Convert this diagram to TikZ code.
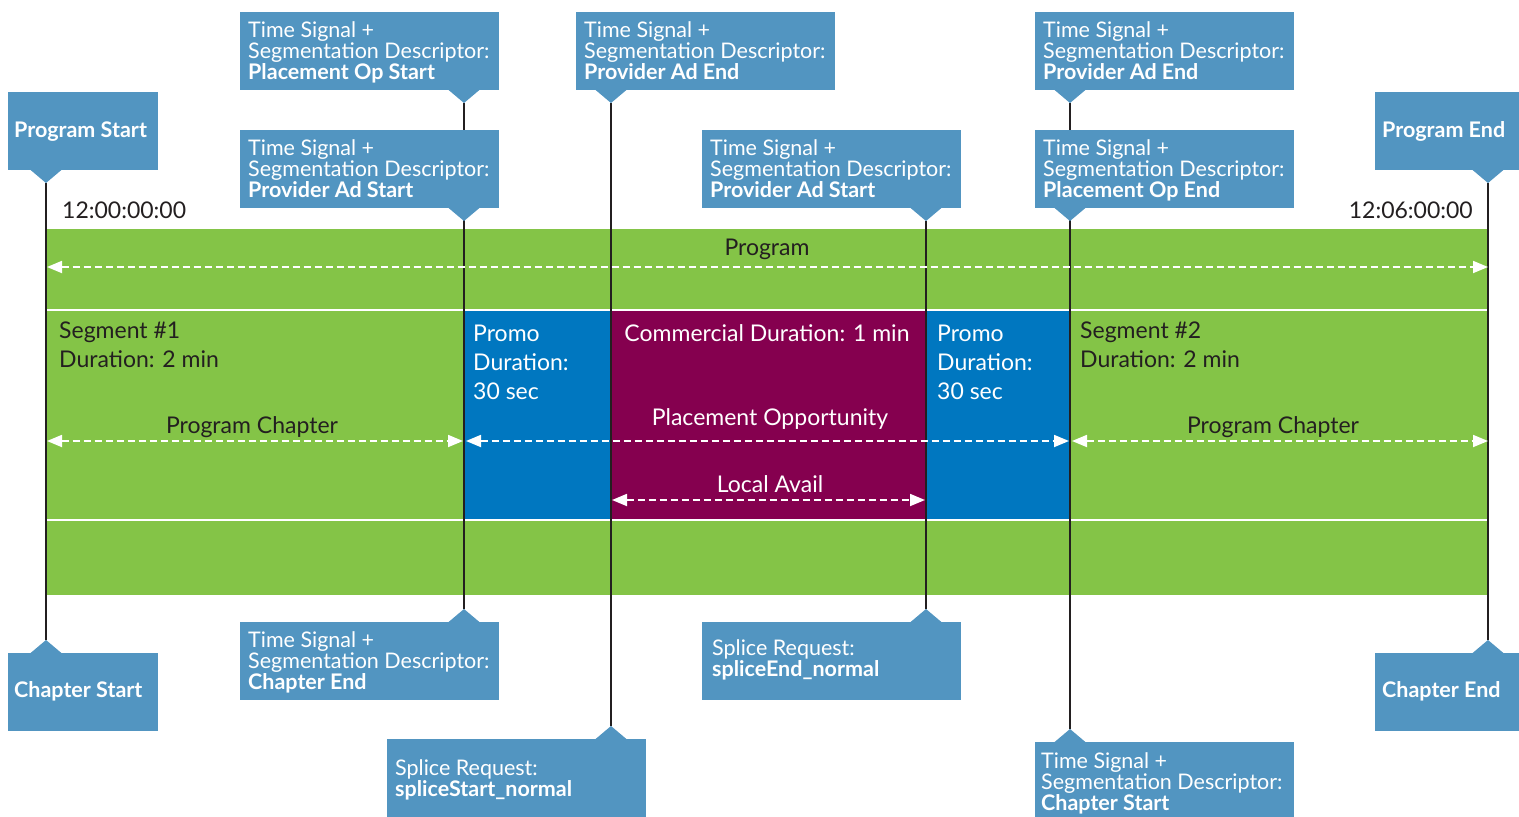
\documentclass[tikz,border=0pt]{standalone}
\usepackage{fontspec}
\setmainfont{Lato}
\usetikzlibrary{arrows.meta}
\definecolor{cbluebox}{HTML}{5295C1}
\definecolor{cgreen}{HTML}{84C447}
\definecolor{cpromo}{HTML}{0077C0}
\definecolor{cmaroon}{HTML}{85004F}
\definecolor{cdark}{HTML}{231F20}
\tikzset{
  boxst/.style={fill=cbluebox, inner sep=0pt, outer sep=0pt, anchor=north west},
  ctext/.style={text=white, font=\fontsize{21.5}{21}\selectfont, align=left, anchor=base west, inner sep=0pt},
  btext/.style={text=cdark, font=\fontsize{23}{29}\selectfont, align=left, anchor=base west, inner sep=0pt},
  wtext/.style={text=white, font=\fontsize{23}{29}\selectfont, align=left, anchor=base west, inner sep=0pt},
  tline/.style={draw=cdark, line width=2.5pt},
  darr/.style={draw=white, line width=1.8pt, dash pattern=on 7pt off 4pt, {Triangle[length=15pt,width=12pt,fill=white]}-{Triangle[length=15pt,width=12pt,fill=white]}},
  wline/.style={draw=white, line width=2pt},
}
% name, x, y, w, h, pointer x  (pointer below)
\newcommand\calldown[6]{%
  \node[boxst, minimum width=#4pt, minimum height=#5pt] (#1) at (#2,#3) {};
  \fill[cbluebox] (#6-16,#3+#5-0.5) -- (#6+16,#3+#5-0.5) -- (#6,#3+#5+13) -- cycle;
  \coordinate (#1-p) at (#6,#3+#5+13);}
% pointer above
\newcommand\callup[6]{%
  \node[boxst, minimum width=#4pt, minimum height=#5pt] (#1) at (#2,#3) {};
  \fill[cbluebox] (#6-16,#3+0.5) -- (#6+16,#3+0.5) -- (#6,#3-13) -- cycle;
  \coordinate (#1-p) at (#6,#3-13);}
\begin{document}
\begin{tikzpicture}[x=1pt,y=-1pt]
\useasboundingbox (0,0) rectangle (1519,817);
% band
\fill[cgreen] (47,229) rectangle (1488,595);
\fill[cpromo] (464,311) rectangle (611,519);
\fill[cmaroon] (611,311) rectangle (926,519);
\fill[cpromo] (926,311) rectangle (1070,519);
\draw[wline] (47,310) -- (1490,310);
\draw[wline] (47,520) -- (1490,520);

% anchor points of the time lines
\coordinate (ps-p) at (46,183);
\coordinate (tpos-p) at (464,103);
\coordinate (tpae-p) at (611,103);
\coordinate (tpas2-p) at (926,221);
\coordinate (tpae2-p) at (1070,103);
\coordinate (pe-p) at (1488,183);
\coordinate (cs-p) at (46,640);
\coordinate (tce-p) at (464,609);
\coordinate (sre-p) at (926,609);
\coordinate (srs-p) at (611,726);
\coordinate (tcs-p) at (1070,729);
\coordinate (ce-p) at (1488,640);

% time lines
\draw[tline] (ps-p) -- (cs-p);
\draw[tline] (tpos-p) -- (tce-p);
\draw[tline] (tpae-p) -- (srs-p);
\draw[tline] (tpas2-p) -- (sre-p);
\draw[tline] (tpae2-p) -- (tcs-p);
\draw[tline] (pe-p) -- (ce-p);

% callouts top
\calldown{ps}{8}{92}{150}{78}{46}
\calldown{tpos}{240}{12}{259}{78}{464}
\calldown{tpas}{240}{130}{259}{78}{464}
\calldown{tpae}{576}{12}{259}{78}{611}
\calldown{tpas2}{702}{130}{259}{78}{926}
\calldown{tpae2}{1035}{12}{259}{78}{1070}
\calldown{tpoe}{1035}{130}{259}{78}{1070}
\calldown{pe}{1375}{92}{144}{78}{1488}
% callouts bottom
\callup{cs}{8}{653}{150}{78}{46}
\callup{tce}{240}{622}{259}{78}{464}
\callup{sre}{702}{622}{259}{78}{926}
\callup{srs}{387}{739}{259}{78}{611}
\callup{tcs}{1035}{742}{259}{75}{1070}
\callup{ce}{1375}{653}{144}{78}{1488}

% callout texts (anchor = baseline of last line)
\node[ctext] (tps) at (14,137) {\textbf{Program Start}};
\node[ctext] (tpe) at (1382,137) {\textbf{Program End}};
\node[ctext] (tcs0) at (14,697) {\textbf{Chapter Start}};
\node[ctext] (tce0) at (1382,697) {\textbf{Chapter End}};
\node[ctext] (t1) at (248,79) {Time Signal +\\Segmentation Descriptor:\\\textbf{Placement Op Start}};
\node[ctext] (t2) at (248,197) {Time Signal +\\Segmentation Descriptor:\\\textbf{Provider Ad Start}};
\node[ctext] (t3) at (584,79) {Time Signal +\\Segmentation Descriptor:\\\textbf{Provider Ad End}};
\node[ctext] (t4) at (710,197) {Time Signal +\\Segmentation Descriptor:\\\textbf{Provider Ad Start}};
\node[ctext] (t5) at (1043,79) {Time Signal +\\Segmentation Descriptor:\\\textbf{Provider Ad End}};
\node[ctext] (t6) at (1043,197) {Time Signal +\\Segmentation Descriptor:\\\textbf{Placement Op End}};
\node[ctext] (t7) at (248,689) {Time Signal +\\Segmentation Descriptor:\\\textbf{Chapter End}};
\node[ctext] (t8) at (712,676) {Splice Request:\\\textbf{spliceEnd\_normal}};
\node[ctext] (t9) at (395,796) {Splice Request:\\\textbf{spliceStart\_normal}};
\node[ctext] (t10) at (1041,810) {Time Signal +\\Segmentation Descriptor:\\\textbf{Chapter Start}};

% timestamps
\node[btext] (ts1) at (62,218) {12:00:00:00};
\node[btext, anchor=base east] (ts2) at (1473,218) {12:06:00:00};

% band texts
\node[btext, anchor=base] (prog) at (767,255) {Program};
\coordinate (pa1) at (47,267); \coordinate (pa2) at (1488,267);
\draw[darr] (pa1) -- (pa2);

\node[btext] (seg1) at (59,367) {Segment \#1\\Duration: 2 min};
\node[btext] (seg2) at (1080,367) {Segment \#2\\Duration: 2 min};
\node[wtext] (pr1) at (473,399) {Promo\\Duration:\\30 sec};
\node[wtext] (pr2) at (937,399) {Promo\\Duration:\\30 sec};
\node[wtext, anchor=base] (com) at (767,341) {Commercial Duration: 1 min};
\node[wtext, anchor=base] (po) at (770,425) {Placement Opportunity};
\node[wtext, anchor=base] (la) at (770,492) {Local Avail};
\node[btext, anchor=base] (pc1) at (252,433) {Program Chapter};
\node[btext, anchor=base] (pc2) at (1273,433) {Program Chapter};

\coordinate (a1) at (47,441); \coordinate (a2) at (463,441);
\coordinate (a3) at (466,441); \coordinate (a4) at (1069,441);
\coordinate (a5) at (1072,441); \coordinate (a6) at (1488,441);
\coordinate (a7) at (612,500); \coordinate (a8) at (925,500);
\draw[darr] (a1) -- (a2);
\draw[darr] (a3) -- (a4);
\draw[darr] (a5) -- (a6);
\draw[darr] (a7) -- (a8);
\end{tikzpicture}
\end{document}
